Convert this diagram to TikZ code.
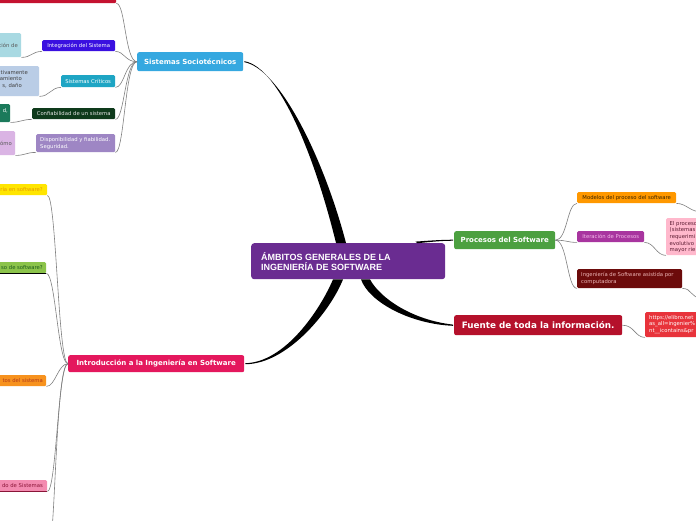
\documentclass[tikz,border=0pt]{standalone}
\usepackage{fontspec}
\setmainfont{DejaVu Sans}
\newfontfamily\arialf{Liberation Sans}
\usetikzlibrary{calc}
\definecolor{cTop}{HTML}{C41230}
\definecolor{cMain}{HTML}{6A2C91}
\definecolor{cSoc}{HTML}{35A8E0}
\definecolor{cIntro}{HTML}{E4185D}
\definecolor{cProc}{HTML}{4CA040}
\definecolor{cFuente}{HTML}{B5112B}
\definecolor{cInteg}{HTML}{3A10E0}
\definecolor{cGa}{HTML}{A8D9E2}
\definecolor{cCrit}{HTML}{1EA5C4}
\definecolor{cGb}{HTML}{BACDE6}
\definecolor{cConf}{HTML}{0E3A1B}
\definecolor{cGc}{HTML}{1B7A5B}
\definecolor{cDisp}{HTML}{9E86C4}
\definecolor{cGd}{HTML}{DAB4E4}
\definecolor{cYel}{HTML}{FFE500}
\definecolor{cYelT}{HTML}{E59A00}
\definecolor{cGrn}{HTML}{8BC34A}
\definecolor{cGrnT}{HTML}{1D5A1D}
\definecolor{cOra}{HTML}{F7921E}
\definecolor{cOraT}{HTML}{B23A1A}
\definecolor{cPnk}{HTML}{F38BB0}
\definecolor{cPnkT}{HTML}{8A1538}
\definecolor{cMod}{HTML}{FF9800}
\definecolor{cModT}{HTML}{3A2500}
\definecolor{cIter}{HTML}{A8359F}
\definecolor{cIterT}{HTML}{F5B8EA}
\definecolor{cGi}{HTML}{FFB8CC}
\definecolor{cGiT}{HTML}{5A1A30}
\definecolor{cCase}{HTML}{6C0B0B}
\definecolor{cCaseT}{HTML}{EDB5B5}
\definecolor{cUrl}{HTML}{E8333B}
\definecolor{cLine}{HTML}{808080}
\tikzset{
  box/.style={rectangle, rounded corners=1.3pt, inner sep=0pt, anchor=north west, draw=none},
  lbl/.style={font=\fontsize{5.3}{7}\selectfont, inner sep=0pt},
  big/.style={font=\bfseries\fontsize{7}{8.5}\selectfont, text=white},
  conn/.style={draw=cLine, line width=0.6pt},
}
\begin{document}
\begin{tikzpicture}[x=1pt,y=-1pt]
\useasboundingbox (0,0) rectangle (696,520);
\clip (0,0) rectangle (696,520);
\fill[white] (0,0) rectangle (696,520);

% ---------- main nodes ----------
\node[box, fill=cMain, minimum width=194pt, minimum height=36pt, rounded corners=3pt] (main) at (251,243) {};
\node[anchor=west, align=left, text=white, inner sep=0pt, font=\arialf\bfseries\fontsize{9}{10}\selectfont] (maintxt) at ($(main.west)+(10,0)$) {ÁMBITOS GENERALES DE LA\\INGENIERÍA DE SOFTWARE};

\node[box, big, fill=cSoc, minimum width=106pt, minimum height=19pt, rounded corners=2pt] (soc) at (137,52) {Sistemas Sociotécnicos};
\node[box, big, fill=cIntro, minimum width=176pt, minimum height=17pt, rounded corners=2pt] (intro) at (68,355) {Introducción a la Ingeniería en Software};
\node[box, big, fill=cProc, minimum width=101pt, minimum height=18pt, rounded corners=2pt] (proc) at (454,231) {Procesos del Software};
\node[box, fill=cFuente, minimum width=168pt, minimum height=20pt, rounded corners=2pt, text=white, font=\bfseries\fontsize{8.8}{10}\selectfont] (fuente) at (454,315) {Fuente de toda la información.};

% ---------- thick tapered branches ----------
\fill[black] ($(main.north west)+(85,0)$) .. controls (316,161) and (280,67.2) .. ($(soc.east)+(1,-0.5)$)
  -- ($(soc.east)+(1,0.5)$) .. controls (280,68.8) and (324,159) .. ($(main.north west)+(95,0)$) -- cycle;
\fill[black] ($(main.south west)+(82,0)$) .. controls (320,310) and (285,362.3) .. ($(intro.east)+(1,-0.5)$)
  -- ($(intro.east)+(1,0.5)$) .. controls (287,364) and (330,312) .. ($(main.south west)+(92,0)$) -- cycle;
\fill[black] ($(main.south west)+(110,0)$) .. controls (369,302) and (410,324) .. ($(fuente.west)+(-1,0.6)$)
  -- ($(fuente.west)+(-1,-0.6)$) .. controls (412,320) and (380,298) .. ($(main.south west)+(119,0)$) -- cycle;
\fill[black] ($(main.north east)+(-30,-1.4)$) .. controls (430,240.6) and (440,239.8) .. ($(proc.west)+(-1,-0.5)$)
  -- ($(proc.west)+(-1,0.5)$) .. controls (440,240.8) and (430,242) .. ($(main.north east)+(-28,0.2)$) -- cycle;

% ---------- Sistemas Sociotecnicos children ----------
\node[box, fill=cTop, minimum width=130pt, minimum height=20pt] (topred) at (-14,-17) {};

\node[box, fill=cInteg, minimum width=73pt, minimum height=11pt, lbl, text=white] (integ) at (42,40) {Integración del Sistema};
\node[box, fill=cGa, minimum width=41pt, minimum height=24pt] (ga) at (-20,33) {};
\node[lbl, anchor=east, text=black!65] (gat) at (18,45) {ción de};

\node[box, fill=cCrit, minimum width=54pt, minimum height=12pt, lbl, text=white] (crit) at (61,75) {Sistemas Críticos};
\node[box, fill=cGb, minimum width=59pt, minimum height=30pt] (gb) at (-20,66) {};
\node[lbl, anchor=east, text=black!75] (gbt1) at (28,72.5) {tivamente};
\node[lbl, anchor=east, text=black!75] (gbt2) at (22,79) {amiento};
\node[lbl, anchor=east, text=black!75] (gbt3) at (22,85.5) {s, daño};

\node[box, fill=cConf, minimum width=83pt, minimum height=11pt, lbl, text=white!90!black] (conf) at (32,108) {Confiabilidad de un sistema};
\node[box, fill=cGc, minimum width=30pt, minimum height=18pt] (gc) at (-20,104) {};
\node[lbl, anchor=east, text=white] (gct) at (8,111) {d,};

\node[box, fill=cDisp, minimum width=79pt, minimum height=18pt] (disp) at (36,134) {};
\node[lbl, anchor=west, align=left, text=white] (dispt) at ($(disp.west)+(4,0)$) {Disponibilidad y fiabilidad.\\Seguridad.};
\node[box, fill=cGd, minimum width=35pt, minimum height=24pt] (gd) at (-20,131) {};
\node[lbl, anchor=east, text=black!65] (gdt) at (12,143) {ómo};

\foreach \n in {topred, integ, crit, conf, disp}
  \draw[conn] (soc.west) .. controls ($(soc.west)+(-12,0)$) and ($(\n.south east)+(9,0)$) .. (\n.south east);
\draw[conn] (integ.south west) .. controls ($(integ.south west)+(-10,0)$) and ($(ga.south east)+(10,0)$) .. (ga.south east);
\draw[conn] (crit.south west) .. controls ($(crit.south west)+(-10,0)$) and ($(gb.south east)+(10,0)$) .. (gb.south east);
\draw[conn] (conf.south west) .. controls ($(conf.south west)+(-10,0)$) and ($(gc.south east)+(10,0)$) .. (gc.south east);
\draw[conn] (disp.south west) .. controls ($(disp.south west)+(-10,0)$) and ($(gd.south east)+(10,0)$) .. (gd.south east);

% ---------- Introduccion children ----------
\node[box, fill=cYel, minimum width=67pt, minimum height=11pt] (yel) at (-20,184) {};
\node[lbl, anchor=east, text=cYelT] (yelt) at (43,189.5) {ría en software?};
\node[box, fill=cGrn, minimum width=66pt, minimum height=11pt] (grn) at (-20,262) {};
\node[lbl, anchor=east, text=cGrnT] (grnt) at (43,267.5) {so de software?};
\draw[black, line width=0.7pt] (grn.south west) -- (grn.south east);
\node[box, fill=cOra, minimum width=66pt, minimum height=11pt] (ora) at (-20,375) {};
\node[lbl, anchor=east, text=cOraT] (orat) at (43,380.5) {tos del sistema};
\node[box, fill=cPnk, minimum width=67pt, minimum height=11pt] (pnk) at (-20,480) {};
\node[lbl, anchor=east, text=cPnkT] (pnkt) at (43,485.5) {do de Sistemas};
\draw[cPnkT, line width=0.8pt] (pnk.south west) -- (pnk.south east);
\coordinate (offb) at (52,530);

\foreach \n in {yel, grn, ora, pnk}
  \draw[conn] (intro.west) .. controls ($(intro.west)+(-10,0)$) and ($(\n.south east)+(9,0)$) .. (\n.south east);
\draw[conn] (intro.west) .. controls ($(intro.west)+(-10,0)$) and (56,480) .. (offb);

% ---------- Procesos children ----------
\node[box, fill=cMod, minimum width=99pt, minimum height=11pt, lbl, text=cModT] (mod) at (577,192) {Modelos del proceso del software};
\node[box, fill=cIter, minimum width=67pt, minimum height=11pt, lbl, text=cIterT] (iter) at (577,231) {Iteración de Procesos};
\node[box, fill=cCase, minimum width=105pt, minimum height=19pt] (case) at (577,269) {};
\node[lbl, anchor=west, align=left, text=cCaseT] (caset) at ($(case.west)+(4,0)$) {Ingeniería de Software asistida por\\computadora};
\node[box, fill=cGi, minimum width=60pt, minimum height=37pt] (gi) at (666,218) {};
\node[lbl, anchor=north west, align=left, text=cGiT, font=\fontsize{5.3}{6.6}\selectfont] (git) at (669.5,221) {El proceso\\(sistemas\\requerimi\\evolutivo\\mayor rie};
\coordinate (offm) at (702,212);
\coordinate (offc) at (702,298);

\foreach \n in {mod, iter, case}
  \draw[conn] (proc.east) .. controls ($(proc.east)+(12,0)$) and ($(\n.south west)+(-10,0)$) .. (\n.south west);
\draw[conn] (mod.south east) .. controls ($(mod.south east)+(10,0)$) and ($(offm)+(-12,0)$) .. (offm);
\draw[conn] (iter.south east) .. controls ($(iter.south east)+(10,0)$) and ($(gi.south west)+(-10,0)$) .. (gi.south west);
\draw[conn] (case.south east) .. controls ($(case.south east)+(10,0)$) and ($(offc)+(-12,0)$) .. (offc);

% ---------- Fuente child ----------
\node[box, fill=cUrl, minimum width=60pt, minimum height=25pt] (url) at (645,312) {};
\node[lbl, anchor=north west, align=left, text=white, font=\fontsize{5.3}{6.6}\selectfont] (urlt) at (649,315) {https://elibro.net\\as\_all=ingenier\%\\nt\_\_icontains\&pr};
\draw[conn] (fuente.east) .. controls ($(fuente.east)+(12,0)$) and ($(url.south west)+(-10,0)$) .. (url.south west);
\end{tikzpicture}
\end{document}
